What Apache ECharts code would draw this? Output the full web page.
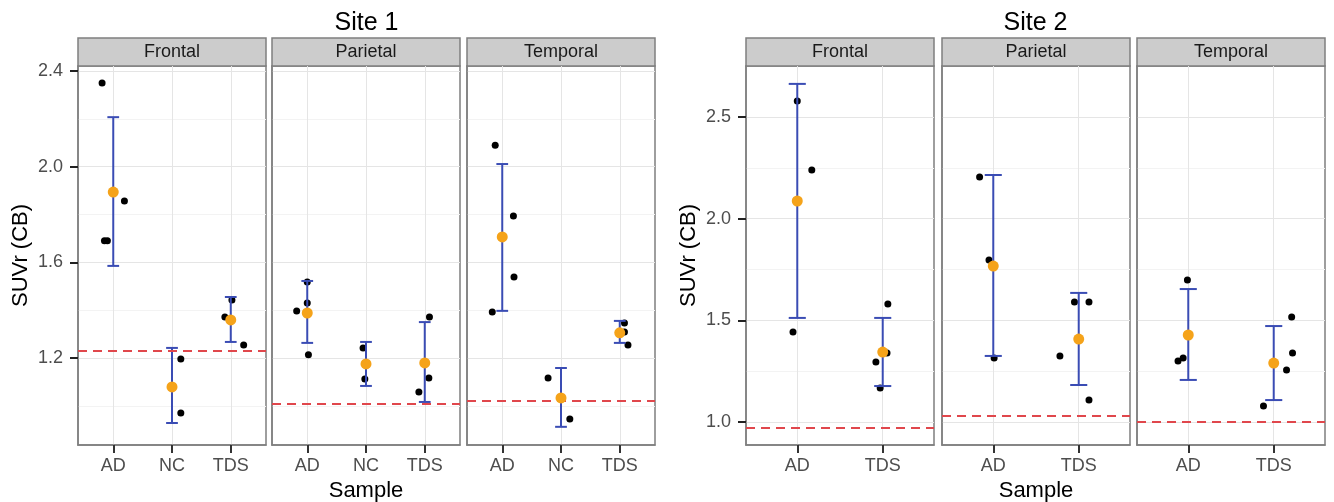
<!DOCTYPE html>
<html>
<head>
<meta charset="utf-8">
<script src="https://cdn.jsdelivr.net/npm/echarts@6/dist/echarts.min.js"></script>
<style>
  html, body { margin: 0; padding: 0; background: #fff; }
  #chart { width: 1334px; height: 502px; }
</style>
</head>
<body>
<div id="chart"></div>
<script>
const regions = ['Frontal', 'Parietal', 'Temporal'];
const site1Groups = ['AD', 'NC', 'TDS'];
const site2Groups = ['AD', 'TDS'];

// individual subjects: [group index + jitter, SUVr]
const site1Points = [
    [[-0.19, 2.35], [0.19, 1.856], [-0.15, 1.69], [-0.1, 1.69], [1.15, 1.196], [1.15, 0.97], [1.9, 1.371], [2.02, 1.442], [2.22, 1.254]],
    [[-0.18, 1.396], [0.0, 1.43], [0.0, 1.518], [0.02, 1.213], [0.95, 1.242], [0.98, 1.112], [2.08, 1.371], [2.07, 1.116], [1.9, 1.058]],
    [[-0.12, 2.09], [0.19, 1.794], [0.2, 1.539], [-0.17, 1.392], [0.78, 1.116], [1.15, 0.945], [2.08, 1.346], [2.08, 1.309], [2.14, 1.254]]
];
const site2Points = [
    [[0, 2.579], [0.17, 2.24], [-0.05, 1.443], [1.06, 1.58], [1.05, 1.339], [0.92, 1.295], [0.97, 1.167]],
    [[-0.16, 2.205], [-0.05, 1.797], [0.01, 1.315], [0.95, 1.59], [1.12, 1.59], [0.78, 1.325], [1.12, 1.108]],
    [[-0.01, 1.698], [-0.12, 1.30], [-0.06, 1.315], [1.21, 1.516], [1.22, 1.34], [1.15, 1.256], [0.88, 1.079]]
];

// group means and error bar ends, one row per region
const site1Means = [[1.894, 1.079, 1.359], [1.388, 1.175, 1.179], [1.706, 1.033, 1.305]];
const site1Lower = [[1.585, 0.928, 1.267], [1.263, 1.083, 1.016], [1.397, 0.912, 1.263]];
const site1Upper = [[2.207, 1.242, 1.455], [1.522, 1.267, 1.35], [2.011, 1.158, 1.355]];
const site2Means = [[2.087, 1.344], [1.767, 1.408], [1.428, 1.29]];
const site2Lower = [[1.512, 1.177], [1.325, 1.182], [1.207, 1.108]];
const site2Upper = [[2.663, 1.512], [2.215, 1.635], [1.654, 1.472]];

// dashed reference level per region
const site1Ref = [1.233, 1.008, 1.016];
const site2Ref = [0.97, 1.03, 1.0];

const site1Ticks = [1.2, 1.6, 2.0, 2.4];
const site1Minor = [1.0, 1.4, 1.8, 2.2];
const site2Ticks = [1.0, 1.5, 2.0, 2.5];
const site2Minor = [1.25, 1.75, 2.25];

function renderSuvr() {
    let myChart = echarts.init(document.getElementById('chart'));
    const ff = "'Liberation Sans', Arial, sans-serif";
    const top = 66, height = 379;
    // discrete axis padding (ggplot expands 0.6 of a category on each side)
    const pad = 0.6;

    const sites = [
        { title: 'Site 1', lefts: [78, 272, 467], width: 188, min: 0.836, max: 2.421,
          groups: site1Groups, points: site1Points, means: site1Means, lower: site1Lower, upper: site1Upper,
          ref: site1Ref, ticks: site1Ticks, minor: site1Minor },
        { title: 'Site 2', lefts: [746, 942, 1137], width: 188, min: 0.887, max: 2.751,
          groups: site2Groups, points: site2Points, means: site2Means, lower: site2Lower, upper: site2Upper,
          ref: site2Ref, ticks: site2Ticks, minor: site2Minor }
    ];

    const grid = [], xAxis = [], yAxis = [], minorAxes = [], series = [], graphic = [];

    sites.forEach(function (s, si) {
        const first = s.lefts[0], last = s.lefts[2] + s.width;
        graphic.push({
            type: 'rect', shape: { x: first, y: 8, width: last - first, height: 30 },
            style: { fill: 'rgba(0,0,0,0)' },
            textContent: { style: { text: s.title, font: "25px " + ff, fill: '#000' } },
            textConfig: { position: 'inside' }
        });

        regions.forEach(function (reg, ri) {
            const gi = grid.length;
            const n = s.groups.length;
            grid.push({ left: s.lefts[ri], top: top, width: s.width, height: height,
                        outerBoundsMode: 'none', containLabel: false,
                        show: true, borderColor: '#7f7f7f', borderWidth: 1.5, backgroundColor: '#fff' });

            graphic.push({
                type: 'rect', shape: { x: s.lefts[ri], y: 38, width: s.width, height: 28 },
                style: { fill: '#cccccc', stroke: '#7f7f7f', lineWidth: 1.5 },
                textContent: { style: { text: reg, font: "18px " + ff, fill: '#1a1a1a' } },
                textConfig: { position: 'inside' }
            });

            const idx = [];
            for (let i = 0; i < n; i++) idx.push(i + pad);

            xAxis.push({
                type: 'value', gridIndex: gi, min: 0, max: n - 1 + 2 * pad, position: 'bottom',
                axisLine: { show: true, onZero: false, lineStyle: { color: '#7f7f7f', width: 1.5 } },
                axisTick: { show: true, customValues: idx, length: 8, lineStyle: { color: '#333', width: 2 } },
                axisLabel: { customValues: idx, margin: 12, fontSize: 18, fontFamily: ff, color: '#4d4d4d',
                             formatter: function (v) { return s.groups[Math.round(v - pad)]; } },
                splitLine: { show: true, lineStyle: { color: '#e5e5e5', width: 1 } },
                name: ri === 1 ? 'Sample' : '', nameLocation: 'middle', nameGap: 31,
                nameTextStyle: { fontSize: 22, fontFamily: ff, color: '#000' }
            });

            yAxis.push({
                type: 'value', gridIndex: gi, min: s.min, max: s.max, position: 'left',
                axisLine: { show: true, lineStyle: { color: '#7f7f7f', width: 1.5 } },
                axisTick: { show: ri === 0, inside: false, customValues: s.ticks, length: 8,
                            lineStyle: { color: '#222', width: 2 } },
                axisLabel: { show: ri === 0, customValues: s.ticks, margin: 15, fontSize: 18, fontFamily: ff, color: '#4d4d4d',
                             formatter: function (v) { return v.toFixed(1); } },
                splitLine: { show: true, lineStyle: { color: '#e5e5e5', width: 1 } },
                name: ri === 0 ? 'SUVr (CB)' : '', nameLocation: 'middle', nameGap: 46,
                nameTextStyle: { fontSize: 22, fontFamily: ff, color: '#000' }
            });

            minorAxes.push({
                type: 'value', gridIndex: gi, min: s.min, max: s.max, position: 'right',
                axisLine: { show: false }, axisLabel: { show: false },
                axisTick: { show: false, customValues: s.minor },
                splitLine: { show: true, lineStyle: { color: '#f3f3f3', width: 1 } }
            });

            series.push({
                type: 'scatter', xAxisIndex: gi, yAxisIndex: gi, z: 3,
                symbolSize: 7, itemStyle: { color: '#000', opacity: 1 },
                data: s.points[ri].map(function (p) { return [p[0] + pad, p[1]]; }),
                markLine: {
                    silent: true, symbol: 'none', label: { show: false },
                    lineStyle: { color: '#e0474c', width: 2, type: [9, 6], opacity: 1 },
                    data: [{ yAxis: s.ref[ri] }]
                }
            });

            series.push({
                type: 'custom', xAxisIndex: gi, yAxisIndex: gi, z: 4,
                data: s.groups.map(function (g, i) { return [i + pad, s.lower[ri][i], s.upper[ri][i]]; }),
                encode: { x: 0, y: [1, 2] },
                renderItem: function (params, api) {
                    const x = api.value(0);
                    const hi = api.coord([x, api.value(2)]);
                    const lo = api.coord([x, api.value(1)]);
                    const half = api.size([0.1, 0])[0];
                    const st = { stroke: '#3a4cb4', lineWidth: 2 };
                    return {
                        type: 'group',
                        children: [
                            { type: 'line', shape: { x1: hi[0], y1: hi[1], x2: lo[0], y2: lo[1] }, style: st },
                            { type: 'line', shape: { x1: hi[0] - half, y1: hi[1], x2: hi[0] + half, y2: hi[1] }, style: st },
                            { type: 'line', shape: { x1: lo[0] - half, y1: lo[1], x2: lo[0] + half, y2: lo[1] }, style: st }
                        ]
                    };
                }
            });

            series.push({
                type: 'scatter', xAxisIndex: gi, yAxisIndex: gi, z: 5,
                symbolSize: 11, itemStyle: { color: '#f5a31a', opacity: 1 },
                data: s.means[ri].map(function (m, i) { return [i + pad, m]; })
            });
        });
    });

    const option = {
        animation: false,
        backgroundColor: '#fff',
        grid: grid,
        xAxis: xAxis,
        yAxis: yAxis.concat(minorAxes),
        series: series,
        graphic: graphic
    };

    option && myChart.setOption(option);
}

renderSuvr();
</script>
</body>
</html>
